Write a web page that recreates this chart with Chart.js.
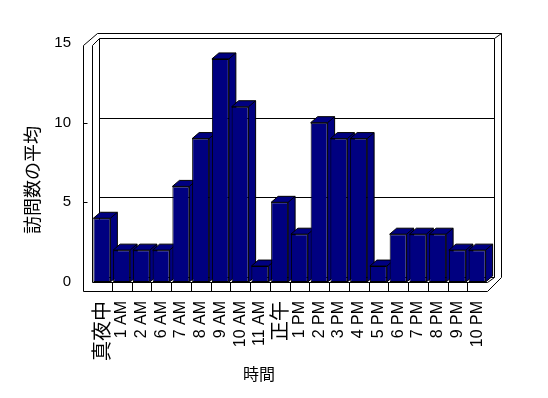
<!DOCTYPE html>
<html>
<head>
<meta charset="utf-8">
<script src="https://cdn.jsdelivr.net/npm/chart.js@4/dist/chart.umd.min.js"></script>
<style>
  html, body { margin: 0; padding: 0; background: #fff; }
</style>
</head>
<body>
<canvas id="chart" width="548" height="398"></canvas>
<script>
// datos del gráfico
const horas = ['真夜中', '1 AM', '2 AM', '6 AM', '7 AM', '8 AM', '9 AM', '10 AM', '11 AM', '正午',
  '1 PM', '2 PM', '3 PM', '4 PM', '5 PM', '6 PM', '7 PM', '8 PM', '9 PM', '10 PM'];
const visitas = [4, 2, 2, 2, 6, 9, 14, 11, 1, 5, 3, 10, 9, 9, 1, 3, 3, 3, 2, 2];
const yMin = 0;
const yMax = 15;
const yPaso = 5;
const tituloY = '訪問数の平均';
const tituloX = '時間';

const NAVY = '#000080';
const LATIN = '"Liberation Sans", Arial, sans-serif';
const CJK = '"Noto Sans CJK JP", "Liberation Sans", sans-serif';
const DX = 7, DY = 6; // profundidad de las barras

const linea = (ctx, pts) => {
  ctx.beginPath();
  pts.forEach(([px, py], i) => i ? ctx.lineTo(px, py) : ctx.moveTo(px, py));
  ctx.stroke();
};

const marco3d = {
  id: 'marco3d',
  beforeDatasetsDraw(chart) {
    const { ctx, chartArea: a, scales: { x, y } } = chart;
    const L = Math.round(a.left) + 0.5, R = Math.round(a.right) + 0.5, B = Math.round(a.bottom) + 0.5;
    const T = Math.round(y.getPixelForValue(yMax)) + 0.5;
    const fl = L - 9, fb = B + 9, ft = T + 2;
    ctx.save();
    ctx.strokeStyle = '#000';
    ctx.lineWidth = 1;

    // contorno exterior
    linea(ctx, [[fl, fb], [fl, ft], [L + 5, T - 10], [R + 14, T - 10], [R + 14, B - 5], [R, fb], [fl, fb]]);
    // pared izquierda y fondo
    linea(ctx, [[L, B], [L, ft], [L + 7, T - 5], [R + 7, T - 5], [R + 7, B - 5]]);
    linea(ctx, [[R + 7, T - 5], [R + 14, T - 10]]);
    linea(ctx, [[L + 7, T - 5], [L + 7, B - 5], [R + 7, B - 5]]);
    // suelo
    linea(ctx, [[L, B], [R, B], [R + 7, B - 5]]);

    // líneas de la pared del fondo
    for (let v = yMin + yPaso; v < yMax; v += yPaso) {
      const py = Math.round(y.getPixelForValue(v)) - 5 + 0.5;
      linea(ctx, [[L + 7, py], [R + 7, py]]);
      linea(ctx, [[fl, py + 5], [fl + 4, py + 5]]);
    }
    // marcas del eje x en el frente del suelo
    for (let i = 1; i < horas.length; i++) {
      const px = Math.round((x.getPixelForTick(i - 1) + x.getPixelForTick(i)) / 2) + 0.5;
      linea(ctx, [[px, B], [px, fb]]);
    }

    // caras superior y lateral de cada barra
    const meta = chart.getDatasetMeta(0);
    meta.data.forEach(bar => {
      const { x: cx, y: top, base, width } = bar.getProps(['x', 'y', 'base', 'width'], true);
      const x0 = cx - width / 2, x1 = cx + width / 2;
      ctx.fillStyle = NAVY;
      ctx.beginPath();
      ctx.moveTo(x0, top); ctx.lineTo(x0 + DX, top - DY); ctx.lineTo(x1 + DX, top - DY);
      ctx.lineTo(x1 + DX, base - DY); ctx.lineTo(x1, base); ctx.lineTo(x1, top); ctx.closePath();
      ctx.fill();
      ctx.stroke();
      linea(ctx, [[x1, top], [x1 + DX, top - DY]]);
    });
    ctx.restore();
  },
  afterDraw(chart) {
    const { ctx } = chart;
    ctx.save();
    ctx.fillStyle = '#000';
    ctx.textAlign = 'center';
    ctx.textBaseline = 'middle';
    ctx.font = '18px ' + CJK;
    ctx.translate(32, 180);
    ctx.rotate(-Math.PI / 2);
    ctx.fillText(tituloY, 0, 0);
    ctx.restore();

    ctx.save();
    ctx.fillStyle = '#000';
    ctx.textAlign = 'center';
    ctx.textBaseline = 'middle';
    ctx.font = '16px ' + CJK;
    ctx.fillText(tituloX, 259, 374);
    ctx.restore();
  }
};

new Chart(document.getElementById('chart'), {
  type: 'bar',
  data: {
    labels: horas,
    datasets: [{
      data: visitas,
      backgroundColor: NAVY,
      borderColor: '#000',
      borderWidth: 1,
      borderSkipped: false,
      categoryPercentage: 1,
      barPercentage: 0.86
    }]
  },
  options: {
    responsive: false,
    animation: false,
    devicePixelRatio: 1,
    layout: { padding: { top: 43, right: 61, bottom: 0, left: 0 } },
    plugins: { legend: { display: false }, tooltip: { enabled: false } },
    scales: {
      x: {
        grid: { display: false, drawTicks: false },
        border: { display: false },
        afterFit: s => { s.height = 116; },
        ticks: {
          autoSkip: false,
          minRotation: 90,
          maxRotation: 90,
          padding: 19,
          color: '#000',
          font: c => {
            const txt = horas[c.index] || '';
            return /[^\x00-\x7f]/.test(txt) ? { family: CJK, size: 20 } : { family: LATIN, size: 16 };
          }
        }
      },
      y: {
        min: yMin,
        max: yMax,
        grid: { display: false, drawTicks: false },
        border: { display: false },
        afterFit: s => { s.width = 92; },
        ticks: {
          stepSize: yPaso,
          padding: 21,
          color: '#000',
          font: { family: LATIN, size: 15 }
        }
      }
    }
  },
  plugins: [marco3d]
});
</script>
</body>
</html>
